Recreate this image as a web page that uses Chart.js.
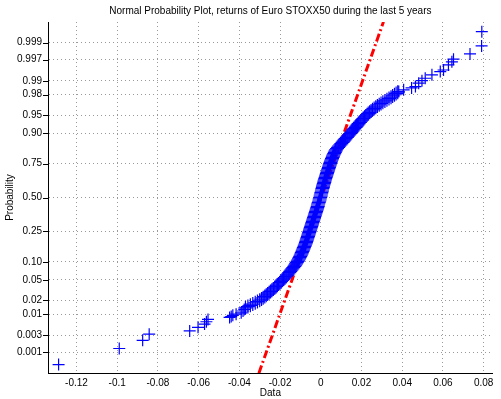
<!DOCTYPE html>
<html>
<head>
<meta charset="utf-8">
<script src="https://cdn.jsdelivr.net/npm/chart.js@4.4.0/dist/chart.umd.min.js"></script>
<style>
  html, body { margin: 0; padding: 0; background: #fff; }
  #wrap { width: 501px; height: 399px; }
</style>
</head>
<body>
<div id="wrap"><canvas id="chart" width="501" height="399"></canvas></div>
<script>
(function () {
  'use strict';

  const TITLE = 'Normal Probability Plot, returns of Euro STOXX50 during the last 5 years';
  const X_LABEL = 'Data';
  const Y_LABEL = 'Probability';

  const xTicks = [-0.12, -0.1, -0.08, -0.06, -0.04, -0.02, 0, 0.02, 0.04, 0.06, 0.08];
  const probTicks = [0.001, 0.003, 0.01, 0.02, 0.05, 0.10, 0.25, 0.50, 0.75, 0.90, 0.95, 0.98, 0.99, 0.997, 0.999];
  const probTickLabels = ['0.001', '0.003', '0.01', '0.02', '0.05', '0.10', '0.25', '0.50', '0.75', '0.90', '0.95', '0.98', '0.99', '0.997', '0.999'];

  // sorted daily returns and their plotting probability
  const lowTailX = [-0.1288, -0.0990, -0.0875, -0.0843, -0.0644, -0.0603, -0.0571, -0.0562, -0.0554,
    -0.0448, -0.0440, -0.0432, -0.0416, -0.0391, -0.0382, -0.0376];
  const lowTailP = [0.00043, 0.0013, 0.0022, 0.0032, 0.0039, 0.0048, 0.0058, 0.0066, 0.0075,
    0.0084, 0.0088, 0.0094, 0.0100, 0.0107, 0.0118, 0.0128];

  const bodyX = [
    -0.0370, -0.0358, -0.0346, -0.0334, -0.0322, -0.0311, -0.0300, -0.0291, -0.0283, -0.0275,
    -0.0268, -0.0261, -0.0254, -0.0247, -0.0240, -0.0233, -0.0226, -0.0219, -0.0213, -0.0207,
    -0.0201, -0.0195, -0.0189, -0.0183, -0.0177, -0.0171, -0.0166, -0.0160, -0.0155, -0.0150,
    -0.0145, -0.0140, -0.0135, -0.0130, -0.0126, -0.0122, -0.0118, -0.0114, -0.0111, -0.0107,
    -0.0104, -0.0101, -0.0098, -0.0095, -0.0093, -0.0090, -0.0088, -0.0085, -0.0083, -0.0080,
    -0.0078, -0.0075, -0.0073, -0.0071, -0.0069, -0.0067, -0.0065, -0.0063, -0.0061, -0.0059,
    -0.0057, -0.0055, -0.0053, -0.0051, -0.0049, -0.0047, -0.0045, -0.0043, -0.0041, -0.0039,
    -0.0037, -0.0035, -0.0033, -0.0031, -0.0029, -0.0027, -0.0025, -0.0023, -0.0021, -0.0019,
    -0.0017, -0.0015, -0.0014, -0.0012, -0.0010, -0.0008, -0.0006, -0.0005, -0.0003, -0.0001,
    0.0000, 0.0002, 0.0003, 0.0005, 0.0006, 0.0008, 0.0010, 0.0011, 0.0013, 0.0015,
    0.0017, 0.0018, 0.0020, 0.0022, 0.0024, 0.0026, 0.0028, 0.0030, 0.0032, 0.0034,
    0.0036, 0.0038, 0.0040, 0.0042, 0.0044, 0.0046, 0.0048, 0.0050, 0.0053, 0.0055,
    0.0058, 0.0060, 0.0063, 0.0066, 0.0069, 0.0072, 0.0075, 0.0080, 0.0085, 0.0090,
    0.0096, 0.0101, 0.0107, 0.0112, 0.0117, 0.0122, 0.0128, 0.0133, 0.0139, 0.0144,
    0.0150, 0.0155, 0.0160, 0.0165, 0.0171, 0.0176, 0.0181, 0.0186, 0.0192, 0.0197,
    0.0203, 0.0209, 0.0215, 0.0221, 0.0227, 0.0233, 0.0240, 0.0247, 0.0254, 0.0262,
    0.0270, 0.0278, 0.0287, 0.0296, 0.0305, 0.0315, 0.0325, 0.0335, 0.0345, 0.0353,
    0.0362, 0.0370, 0.0378
  ];
  const bodyP = [
    0.0139, 0.0148, 0.0158, 0.0168, 0.0179, 0.0190, 0.0202, 0.0214, 0.0228, 0.0241,
    0.0256, 0.0271, 0.0287, 0.0304, 0.0322, 0.0340, 0.0359, 0.0380, 0.0401, 0.0423,
    0.0446, 0.0470, 0.0495, 0.0521, 0.0548, 0.0576, 0.0606, 0.0636, 0.0668, 0.0701,
    0.0735, 0.0771, 0.0808, 0.0846, 0.0885, 0.0926, 0.0968, 0.1011, 0.1056, 0.1103,
    0.1151, 0.1200, 0.1251, 0.1303, 0.1357, 0.1412, 0.1469, 0.1527, 0.1587, 0.1648,
    0.1711, 0.1775, 0.1841, 0.1908, 0.1977, 0.2047, 0.2119, 0.2192, 0.2266, 0.2342,
    0.2420, 0.2498, 0.2578, 0.2660, 0.2743, 0.2827, 0.2912, 0.2998, 0.3085, 0.3174,
    0.3264, 0.3354, 0.3446, 0.3538, 0.3632, 0.3726, 0.3821, 0.3917, 0.4013, 0.4110,
    0.4207, 0.4305, 0.4404, 0.4503, 0.4602, 0.4701, 0.4801, 0.4900, 0.5000, 0.5100,
    0.5199, 0.5299, 0.5398, 0.5497, 0.5596, 0.5695, 0.5793, 0.5890, 0.5987, 0.6083,
    0.6179, 0.6274, 0.6368, 0.6462, 0.6554, 0.6646, 0.6736, 0.6826, 0.6915, 0.7002,
    0.7088, 0.7173, 0.7257, 0.7340, 0.7422, 0.7502, 0.7580, 0.7658, 0.7734, 0.7808,
    0.7881, 0.7953, 0.8023, 0.8092, 0.8159, 0.8225, 0.8289, 0.8352, 0.8413, 0.8473,
    0.8531, 0.8588, 0.8643, 0.8697, 0.8749, 0.8800, 0.8849, 0.8897, 0.8944, 0.8989,
    0.9032, 0.9074, 0.9115, 0.9154, 0.9192, 0.9229, 0.9265, 0.9299, 0.9332, 0.9364,
    0.9394, 0.9424, 0.9452, 0.9479, 0.9505, 0.9530, 0.9554, 0.9577, 0.9599, 0.9620,
    0.9641, 0.9660, 0.9678, 0.9696, 0.9713, 0.9729, 0.9744, 0.9759, 0.9772, 0.9786,
    0.9798, 0.9810, 0.9821
  ];

  const highTailX = [0.0383, 0.0407, 0.0446, 0.0465, 0.0481, 0.0497, 0.0513, 0.0546, 0.0587, 0.0603,
    0.0627, 0.0644, 0.0652, 0.0733, 0.0790, 0.0791];
  const highTailP = [0.9827, 0.9841, 0.9856, 0.9865, 0.9887, 0.9901, 0.9913, 0.9928, 0.9940, 0.9945,
    0.9959, 0.9966, 0.9971, 0.9979, 0.99875, 0.99953];

  // reference normal line (through the quartiles), end points
  const fitX = [-0.0304, 0.0308];
  const fitP = [0.00023, 0.99977];

  // inverse normal cdf (Acklam)
  function norminv(p) {
    const a = [-39.69683028665376, 220.9460984245205, -275.9285104469687, 138.3577518672690, -30.66479806614716, 2.506628277459239];
    const b = [-54.47609879822406, 161.5858368580409, -155.6989798598866, 66.80131188771972, -13.28068155288572];
    const c = [-0.007784894002430293, -0.3223964580411365, -2.400758277161838, -2.549732539343734, 4.374664141464968, 2.938163982698783];
    const d = [0.007784695709041462, 0.3224671290700398, 2.445134137142996, 3.754408661907416];
    const lo = 0.02425;
    if (p < lo) {
      const q = Math.sqrt(-2 * Math.log(p));
      return (((((c[0] * q + c[1]) * q + c[2]) * q + c[3]) * q + c[4]) * q + c[5]) / ((((d[0] * q + d[1]) * q + d[2]) * q + d[3]) * q + 1);
    }
    if (p > 1 - lo) {
      const q = Math.sqrt(-2 * Math.log(1 - p));
      return -(((((c[0] * q + c[1]) * q + c[2]) * q + c[3]) * q + c[4]) * q + c[5]) / ((((d[0] * q + d[1]) * q + d[2]) * q + d[3]) * q + 1);
    }
    const q = p - 0.5, r = q * q;
    return (((((a[0] * r + a[1]) * r + a[2]) * r + a[3]) * r + a[4]) * r + a[5]) * q / (((((b[0] * r + b[1]) * r + b[2]) * r + b[3]) * r + b[4]) * r + 1);
  }

  function toPoints(xs, ps) {
    return xs.map((x, i) => ({ x: x, y: norminv(ps[i]) }));
  }

  const FONT = { family: '"Liberation Sans", Arial, sans-serif', size: 10 };

  // title + outward tick marks on the probability axis
  const extras = {
    id: 'extras',
    afterDraw(chart) {
      const { ctx, chartArea, scales } = chart;
      ctx.save();
      ctx.fillStyle = '#000';
      ctx.font = '10px "Liberation Sans", Arial, sans-serif';
      ctx.textAlign = 'center';
      ctx.textBaseline = 'middle';
      ctx.fillText(TITLE, (chartArea.left + chartArea.right) / 2, 11);

      ctx.strokeStyle = '#000';
      ctx.lineWidth = 1;
      ctx.beginPath();
      scales.y.ticks.forEach(t => {
        const py = Math.round(scales.y.getPixelForValue(t.value)) + 0.5;
        ctx.moveTo(chartArea.left - 5, py);
        ctx.lineTo(chartArea.left, py);
      });
      ctx.stroke();
      ctx.restore();
    }
  };

  const gridOpts = { color: '#9a9a9a', lineWidth: 1, drawTicks: false };
  const borderOpts = { display: true, color: '#000', width: 1, dash: [1, 3] };

  const crossStyle = {
    pointStyle: 'cross',
    borderColor: '#0000ff',
    backgroundColor: '#0000ff',
    borderWidth: 1.2,
    showLine: false,
    order: 0
  };

  new Chart(document.getElementById('chart'), {
    type: 'scatter',
    data: {
      datasets: [
        Object.assign({ label: 'lower tail', data: toPoints(lowTailX, lowTailP), pointRadius: 6, pointHoverRadius: 6 }, crossStyle),
        Object.assign({ label: 'body', data: toPoints(bodyX, bodyP), pointRadius: 7, pointHoverRadius: 7 }, crossStyle),
        Object.assign({ label: 'upper tail', data: toPoints(highTailX, highTailP), pointRadius: 6, pointHoverRadius: 6 }, crossStyle),
        {
          label: 'normal fit',
          order: 1,
          data: toPoints(fitX, fitP),
          showLine: true,
          borderColor: '#ff0000',
          borderWidth: 3,
          borderDash: [8, 3, 2, 3],
          pointRadius: 0,
          fill: false
        }
      ]
    },
    options: {
      responsive: false,
      animation: false,
      events: [],
      layout: { padding: { top: 22, right: 6, left: 0, bottom: 0 } },
      plugins: {
        legend: { display: false },
        tooltip: { enabled: false },
        title: { display: false }
      },
      scales: {
        x: {
          type: 'linear',
          min: -0.134,
          max: 0.0845,
          afterBuildTicks: (scale) => { scale.ticks = xTicks.map(v => ({ value: v })); },
          afterFit: (scale) => { scale.height = 26; },
          grid: gridOpts,
          border: borderOpts,
          ticks: {
            autoSkip: false,
            maxRotation: 0,
            padding: 4,
            color: '#000',
            font: FONT,
            callback: (v) => String(v)
          },
          title: { display: true, text: X_LABEL, color: '#000', font: FONT, padding: { top: 0, bottom: 0 } }
        },
        y: {
          type: 'linear',
          min: -3.5,
          max: 3.5,
          afterBuildTicks: (scale) => { scale.ticks = probTicks.map(p => ({ value: norminv(p) })); },
          afterFit: (scale) => { scale.width = 48; },
          grid: gridOpts,
          border: borderOpts,
          ticks: {
            autoSkip: false,
            padding: 6,
            color: '#000',
            font: FONT,
            callback: (v, i) => probTickLabels[i]
          },
          title: { display: true, text: Y_LABEL, color: '#000', font: FONT, padding: { top: 4, bottom: 0 } }
        }
      }
    },
    plugins: [extras]
  });
})();
</script>
</body>
</html>
